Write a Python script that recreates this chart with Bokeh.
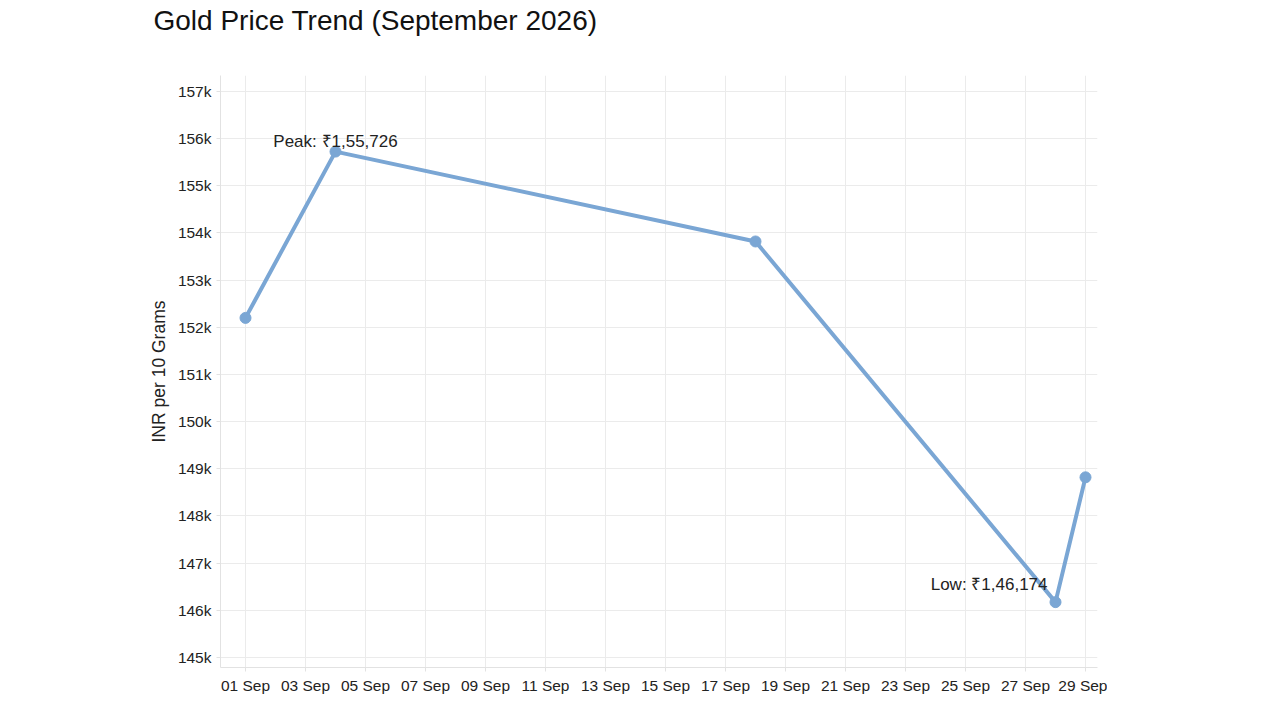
import datetime as dt
from bokeh.plotting import figure
from bokeh.models import (ColumnDataSource, Range1d, DatetimeTickFormatter,
                          DaysTicker, NumeralTickFormatter,
                          SingleIntervalTicker, Title)
from bokeh.core.properties import value
from bokeh.embed import file_html
from bokeh.resources import INLINE

# data (INR per 10 grams)
dates = ["2026-09-01", "2026-09-04", "2026-09-18", "2026-09-28", "2026-09-29"]
prices = [152200, 155726, 153820, 146174, 148820]
peak_label = "Peak: ₹1,55,726"
low_label = "Low: ₹1,46,174"
tick_days = [1, 3, 5, 7, 9, 11, 13, 15, 17, 19, 21, 23, 25, 27, 29]

FONT = "Liberation Sans"
LINE = "#7aa6d4"

xs = [dt.datetime.strptime(d, "%Y-%m-%d") for d in dates]
source = ColumnDataSource(data={'date': xs, 'price': prices})

i_max = prices.index(max(prices))
i_min = prices.index(min(prices))

x0 = xs[0] - dt.timedelta(hours=20)
x1 = xs[-1] + dt.timedelta(hours=9.6)

p = figure(x_axis_type="datetime", output_backend="svg",
           toolbar_location=None, frame_width=877, frame_height=592,
           min_border_left=220, min_border_top=75, min_border_right=10,
           min_border_bottom=30,
           x_range=Range1d(x0, x1), y_range=Range1d(144788, 157339))

# an empty title as spacer keeps the real one up near the top edge
spacer = Title(text=" ", text_font=FONT, text_font_size="34px", standoff=0)
title = Title(text="Gold Price Trend (September 2026)", align="left",
              offset=-67, text_font=FONT, text_font_size="28px",
              text_font_style="normal", text_color="#111111", standoff=0)
p.add_layout(spacer, "above")
p.add_layout(title, "above")

p.xaxis.ticker = DaysTicker(days=tick_days)
p.xaxis.formatter = DatetimeTickFormatter(days="%d %b", months="%d %b")
p.yaxis.ticker = SingleIntervalTicker(interval=1000)
p.yaxis.formatter = NumeralTickFormatter(format="0a")
p.yaxis.axis_label = "INR per 10 Grams"

for ax in (p.xaxis, p.yaxis):
    ax.major_label_text_font = FONT
    ax.major_label_text_font_size = "15.5px"
    ax.major_label_text_color = "#222222"
    ax.axis_label_text_font = FONT
    ax.axis_label_text_font_size = "17.5px"
    ax.axis_label_text_font_style = "normal"
    ax.axis_label_text_color = "#222222"
    ax.axis_line_color = "#e2e2e2"
    ax.major_tick_line_color = "#e2e2e2"
    ax.major_tick_out = 4
    ax.major_tick_in = 0
    ax.minor_tick_line_color = None
p.yaxis.major_label_standoff = 5
p.xaxis.major_label_standoff = 5
p.yaxis.axis_label_standoff = 6

p.xgrid.grid_line_color = "#ebebeb"
p.ygrid.grid_line_color = "#ebebeb"
p.outline_line_color = None

p.line('date', 'price', source=source, line_color=LINE, line_width=4)
p.scatter('date', 'price', source=source, size=11, fill_color=LINE,
          line_color=LINE)

p.text(x=[xs[i_max]], y=[prices[i_max]], text=[peak_label],
       text_font=value(FONT), text_font_size="17px", text_color="#222222",
       text_align="center", text_baseline="bottom", y_offset=-1)
p.text(x=[xs[i_min]], y=[prices[i_min]], text=[low_label],
       text_font=value(FONT), text_font_size="17px", text_color="#222222",
       text_align="right", text_baseline="bottom", x_offset=-8, y_offset=-8)

open("out.html", "w").write(file_html(p, INLINE))
